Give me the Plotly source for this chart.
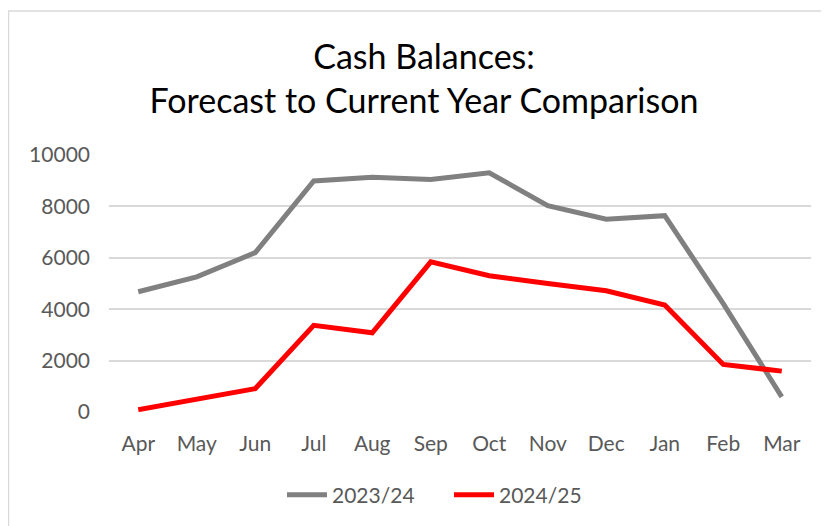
import plotly.graph_objects as go

months = ["Apr", "May", "Jun", "Jul", "Aug", "Sep", "Oct", "Nov", "Dec", "Jan", "Feb", "Mar"]
fy_2023_24 = [4680, 5260, 6200, 8990, 9130, 9050, 9310, 8030, 7500, 7640, 4220, 590]
fy_2024_25 = [90, 480, 910, 3370, 3080, 5840, 5300, 5000, 4720, 4160, 1850, 1590]
y_ticks = [0, 2000, 4000, 6000, 8000, 10000]

FONT = "Lato"
W, H = 829, 526
OFF = 8  # page body margin offset
# target plot area in page pixels: x 109..811, y 155..411.7
L = 109 - OFF
R = (W + OFF) - 811
T = 155 - OFF
B = (H + OFF) - 412
pw = W - L - R
ph = H - T - B


def px_x(page_x):
    return (page_x - 109) / pw


def px_y(page_y):
    return (412 - page_y) / ph


fig = go.Figure()
fig.add_trace(go.Scatter(x=months, y=fy_2023_24, name="2023/24", mode="lines",
                         line=dict(color="#808080", width=5)))
fig.add_trace(go.Scatter(x=months, y=fy_2024_25, name="2024/25", mode="lines",
                         line=dict(color="#FF0000", width=5)))

fig.update_layout(
    width=W, height=H,
    margin=dict(l=L, r=R, t=T, b=B),
    paper_bgcolor="white", plot_bgcolor="white",
    font=dict(family=FONT, color="#595959", size=21),
    title=dict(text="Cash Balances:<br>Forecast to Current Year Comparison",
               font=dict(family=FONT, size=34, color="#000000"),
               x=px_x(424), xref="paper", xanchor="center",
               y=1 - (69 - OFF) / H, yanchor="middle"),
    showlegend=True,
    legend=dict(orientation="h", x=px_x(449), xanchor="center",
                y=px_y(495), yanchor="middle",
                font=dict(family=FONT, size=21, color="#595959"),
                itemwidth=40, entrywidth=112, traceorder="normal"),
    shapes=[dict(type="rect", xref="paper", yref="paper",
                 x0=px_x(8.5), x1=px_x(W + 20),
                 y0=px_y(H + 20), y1=px_y(11),
                 line=dict(color="#d9d9d9", width=1.5), layer="below")],
)
fig.update_xaxes(range=[-0.5, len(months) - 0.5], showgrid=False, showline=False,
                 ticks="", ticklabelstandoff=17,
                 tickfont=dict(size=21, color="#595959"), fixedrange=True)
fig.update_yaxes(range=[0, 10000], tickvals=y_ticks, ticktext=[str(v) for v in y_ticks],
                 showgrid=True, gridcolor="#d9d9d9", gridwidth=1.5, zeroline=False,
                 showline=False, ticks="", ticklabelstandoff=18,
                 tickfont=dict(size=21, color="#595959"))

fig.write_html("out.html")
